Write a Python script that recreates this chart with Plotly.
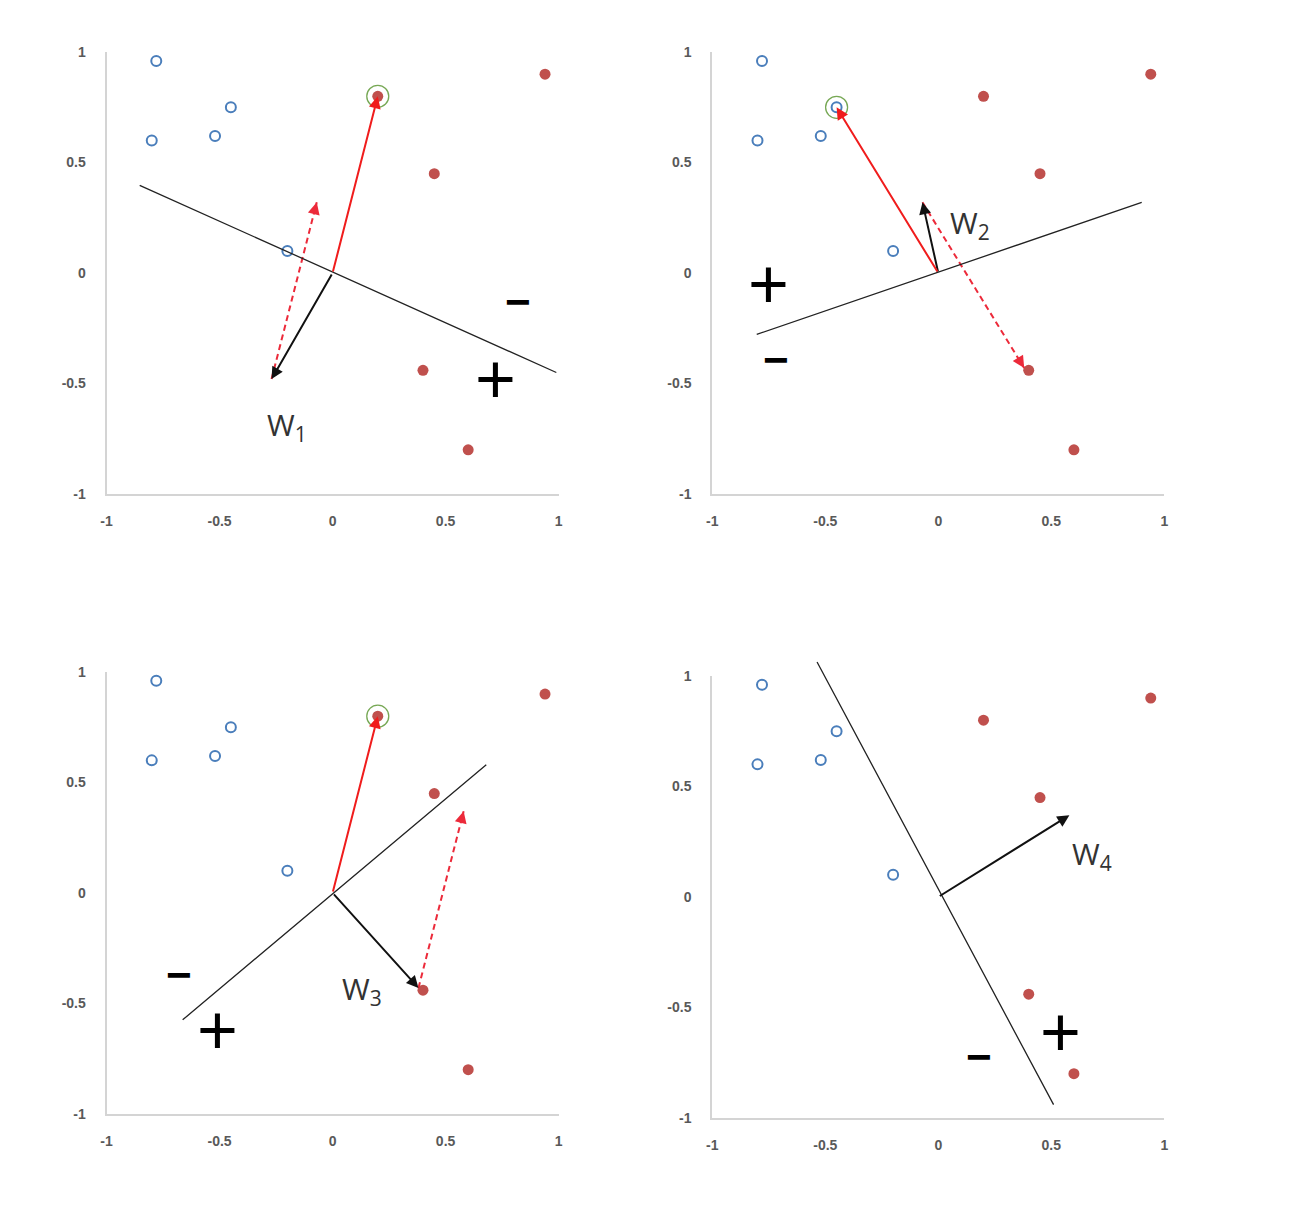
import plotly.graph_objects as go

# ---- data -------------------------------------------------------------
blue_x = [-0.78, -0.80, -0.52, -0.45, -0.20]
blue_y = [0.96, 0.60, 0.62, 0.75, 0.10]
red_x = [0.20, 0.94, 0.45, 0.40, 0.60]
red_y = [0.80, 0.90, 0.45, -0.44, -0.80]

# weight vectors W1..W4
w_x = [-0.27, -0.07, 0.38, 0.58]
w_y = [-0.48, 0.32, -0.43, 0.37]
w_labels = ["W<sub>1</sub>", "W<sub>2</sub>", "W<sub>3</sub>", "W<sub>4</sub>"]
w_label_x = [-0.20, 0.14, 0.13, 0.68]
w_label_y = [-0.69, 0.22, -0.44, 0.19]

# misclassified sample picked in panels 1-3
mis_x = [0.20, -0.45, 0.20]
mis_y = [0.80, 0.75, 0.80]

# decision boundaries (end points)
bound_x0 = [-0.86, -0.81, -0.67, -0.54]
bound_y0 = [0.40, -0.28, -0.58, 1.07]
bound_x1 = [0.99, 0.90, 0.68, 0.51]
bound_y1 = [-0.45, 0.32, 0.58, -0.94]

plus_x = [0.72, -0.75, -0.51, 0.54]
plus_y = [-0.48, -0.05, -0.62, -0.61]
minus_x = [0.82, -0.72, -0.68, 0.18]
minus_y = [-0.13, -0.39, -0.37, -0.72]

tick_vals = [-1, -0.5, 0, 0.5, 1]
tick_text = ["-1", "-0.5", "0", "0.5", "1"]

# ---- layout geometry ---------------------------------------------------
# The photographed page shows the figure offset by the body margin and
# slightly scaled, so target page pixels are converted to figure pixels.
W, H = 1296, 1216
BODY = 8
SX, SY = 1296 / 1312, 1216 / 1232


def fx(px):
    return (px / SX - BODY) / W


def fy(py):
    return 1 - (py / SY - BODY) / H


panel_px = [  # left, right, top, bottom (target pixels)
    (108, 558, 52, 494),
    (711, 1161, 52, 494),
    (108, 558, 672, 1114),
    (711, 1161, 676, 1118),
]

BLUE = "#4a7ebb"
RED_PT = "#c0504d"
RED = "#f01c1c"
RED_DASH = "#ec2a3a"
GREEN = "#77a855"
AX = "#d4d4d4"
TXT = "#595959"

fig = go.Figure()
annotations = []
layout = {}
tickfont = dict(family="Liberation Sans, Arial", size=14, color=TXT, weight="bold")

for i, (l, r, t, b) in enumerate(panel_px):
    k = "" if i == 0 else str(i + 1)
    xa, ya = "x" + k, "y" + k
    layout["xaxis" + k] = dict(
        domain=[fx(l), fx(r)], anchor=ya, range=[-1, 1],
        tickvals=tick_vals, ticktext=tick_text, showgrid=False, zeroline=False,
        showline=True, linecolor=AX, linewidth=2, ticks="",
        ticklabelstandoff=13, tickfont=tickfont, fixedrange=True,
    )
    layout["yaxis" + k] = dict(
        domain=[fy(b), fy(t)], anchor=xa, range=[-1, 1],
        tickvals=tick_vals, ticktext=tick_text, showgrid=False, zeroline=False,
        showline=True, linecolor=AX, linewidth=2, ticks="",
        ticklabelstandoff=16, tickfont=tickfont, fixedrange=True,
    )

    # points
    fig.add_trace(go.Scatter(
        x=blue_x, y=blue_y, mode="markers", xaxis=xa, yaxis=ya,
        marker=dict(symbol="circle-open", size=10, color=BLUE, line=dict(width=2, color=BLUE)),
        showlegend=False, hoverinfo="skip"))
    fig.add_trace(go.Scatter(
        x=red_x, y=red_y, mode="markers", xaxis=xa, yaxis=ya,
        marker=dict(symbol="circle", size=11, color=RED_PT),
        showlegend=False, hoverinfo="skip"))

    # boundary line
    annotations.append(dict(
        x=bound_x1[i], y=bound_y1[i], ax=bound_x0[i], ay=bound_y0[i],
        xref=xa, yref=ya, axref=xa, ayref=ya, text="", showarrow=True,
        arrowhead=0, arrowwidth=1.3, arrowcolor="#222222", standoff=0, startstandoff=0))

    # weight vector
    annotations.append(dict(
        x=w_x[i], y=w_y[i], ax=0, ay=0,
        xref=xa, yref=ya, axref=xa, ayref=ya, text="", showarrow=True,
        arrowhead=2, arrowsize=1.2, arrowwidth=2, arrowcolor="#111111",
        standoff=0, startstandoff=0))
    annotations.append(dict(
        x=w_label_x[i], y=w_label_y[i], xref=xa, yref=ya, text=w_labels[i],
        showarrow=False, font=dict(family="Open Sans", size=30, color="#333333")))

    # +/- signs
    annotations.append(dict(
        x=plus_x[i], y=plus_y[i], xref=xa, yref=ya, text="+", showarrow=False,
        font=dict(family="Liberation Sans", size=70, color="#000000")))
    annotations.append(dict(
        x=minus_x[i], y=minus_y[i], xref=xa, yref=ya, text="<b>−</b>", showarrow=False,
        font=dict(family="Liberation Sans", size=44, color="#000000")))

    if i < 3:
        mx, my = mis_x[i], mis_y[i]
        # highlight ring
        fig.add_trace(go.Scatter(
            x=[mx], y=[my], mode="markers", xaxis=xa, yaxis=ya,
            marker=dict(symbol="circle-open", size=22, color=GREEN, line=dict(width=1.3, color=GREEN)),
            showlegend=False, hoverinfo="skip"))
        # red sample vector
        annotations.append(dict(
            x=mx, y=my, ax=0, ay=0,
            xref=xa, yref=ya, axref=xa, ayref=ya, text="", showarrow=True,
            arrowhead=2, arrowsize=1.2, arrowwidth=2, arrowcolor=RED,
            standoff=0, startstandoff=0))
        # dashed update arrow W_i -> W_{i+1}
        x0, y0, x1, y1 = w_x[i], w_y[i], w_x[i + 1], w_y[i + 1]
        fig.add_trace(go.Scatter(
            x=[x0, x1], y=[y0, y1], mode="lines", xaxis=xa, yaxis=ya,
            line=dict(color=RED_DASH, width=2, dash="6px,4px"),
            showlegend=False, hoverinfo="skip"))
        dx, dy = x1 - x0, y1 - y0
        n = (dx * dx + dy * dy) ** 0.5
        annotations.append(dict(
            x=x1, y=y1, ax=x1 - 0.03 * dx / n, ay=y1 - 0.03 * dy / n,
            xref=xa, yref=ya, axref=xa, ayref=ya, text="", showarrow=True,
            arrowhead=2, arrowsize=1.2, arrowwidth=2, arrowcolor=RED_DASH,
            standoff=0, startstandoff=0))

fig.update_layout(
    width=W, height=H, margin=dict(l=0, r=0, t=0, b=0),
    paper_bgcolor="white", plot_bgcolor="white",
    annotations=annotations, **layout)

fig.write_html("out.html")
